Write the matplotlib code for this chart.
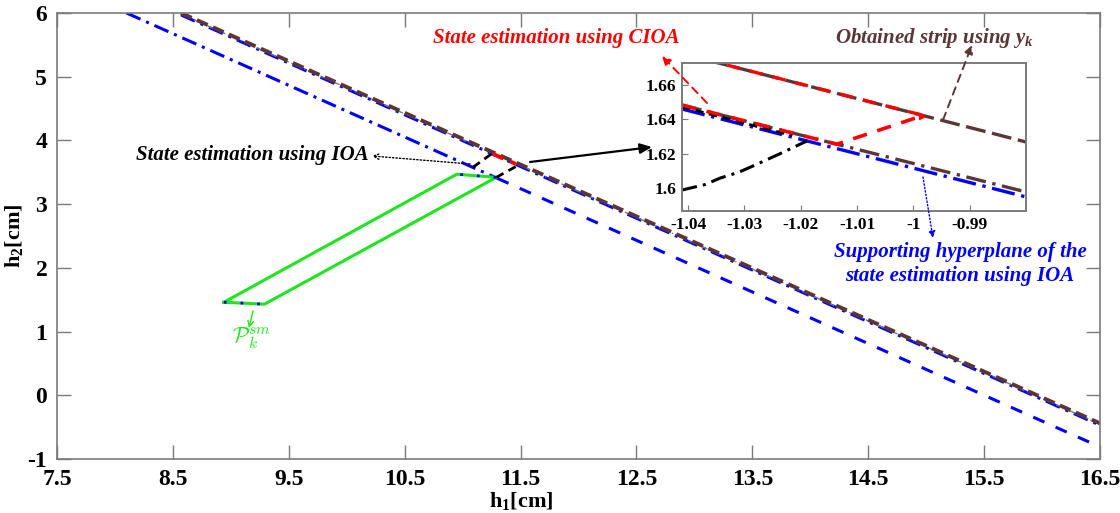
import numpy as np
import matplotlib
matplotlib.use("Agg")
import matplotlib.pyplot as plt

plt.rcParams['font.family'] = ['Liberation Serif', 'DejaVu Serif']
plt.rcParams['font.weight'] = 'bold'
plt.rcParams['axes.unicode_minus'] = False
plt.rcParams['mathtext.fontset'] = 'custom'
plt.rcParams['mathtext.rm'] = 'Liberation Serif:bold'
plt.rcParams['mathtext.bf'] = 'Liberation Serif:bold'
plt.rcParams['mathtext.it'] = 'Liberation Serif:bold:italic'

# ---------------- data ----------------
# measurement strip boundaries (upper side) and supporting hyperplane
strip_h1 = [8.57, 16.5]
strip_h2 = [6.0, -0.44]
strip2_h2 = [5.985, -0.455]       # second strip boundary (dash-dot)
hyper_up_h2 = [5.97, -0.47]       # supporting hyperplane on the strip
# lower supporting hyperplane of the IOA estimate
lower_h1 = [8.10, 11.30, 16.5]
lower_h2 = [6.0, 3.405, -0.81]

# set-membership estimate P_k^sm
pk_h1 = [8.94, 9.29, 11.29, 10.95, 8.94]
pk_h2 = [1.46, 1.43, 3.42, 3.47, 1.46]

# parts of the IOA estimate inside the strip
ioa_a_h1 = [11.09, 11.25]
ioa_a_h2 = [3.58, 3.79]
ioa_b_h1 = [11.29, 11.50]
ioa_b_h2 = [3.42, 3.63]
# CIOA estimate on the strip
cioa_h1 = [11.26, 11.46]
cioa_h2 = [3.79, 3.63]

# zoomed view
z_top_x = [-1.0411, -0.98]
z_top_y = [1.6783, 1.6268]
z_mid_x = [-1.0411, -0.98]
z_mid_y = [1.6483, 1.5977]
z_blue_x = [-1.0411, -0.98]
z_blue_y = [1.6460, 1.5948]
z_red_x = [-1.0411, -1.0136, -0.9985]
z_red_y = [1.6483, 1.6255, 1.6420]
z_red_top_x = [-1.0411, -0.9985]
z_red_top_y = [1.6783, 1.6425]
z_blk_x = [-1.0411, -1.0215]
z_blk_y = [1.6472, 1.6305]
z_curve_x = [-1.0411, -1.0370, -1.0343, -1.0310, -1.0285, -1.0240, -1.0189]
z_curve_y = [1.5988, 1.6020, 1.6058, 1.6092, 1.6128, 1.6195, 1.6274]
z_xticks = [-1.04, -1.03, -1.02, -1.01, -1.0, -0.99]
z_xticklabels = ['-1.04', '-1.03', '-1.02', '-1.01', '-1', '-0.99']
z_yticks = [1.6, 1.62, 1.64, 1.66]
z_yticklabels = ['1.6', '1.62', '1.64', '1.66']

xticks = [7.5, 8.5, 9.5, 10.5, 11.5, 12.5, 13.5, 14.5, 15.5, 16.5]
yticks = [-1, 0, 1, 2, 3, 4, 5, 6]

BROWN = '#5a3636'
BLUE = '#0000ff'
RED = '#ff0000'
GREEN = '#1ee61e'
GRAY = '#7a7a7a'

DASHDOT = (0, (5, 2, 1, 2))

fig = plt.figure(figsize=(11.2, 5.13), dpi=100)
ax = fig.add_axes([57/1120, 1 - 459/513, (1100 - 57)/1120, (459 - 13)/513])

ax.plot(lower_h1[:2], lower_h2[:2], color=BLUE, lw=2.2, ls=DASHDOT)
ax.plot(lower_h1[1:], lower_h2[1:], color=BLUE, lw=2.2, ls=(0, (4, 4)))
ax.plot(strip_h1, hyper_up_h2, color=BLUE, lw=2.2, ls=DASHDOT)
ax.plot(strip_h1, strip2_h2, color=GRAY, lw=1.0, ls=DASHDOT)
ax.plot(strip_h1, strip_h2, color=BROWN, lw=2.8, ls=(0, (3, 1.5)))

ax.plot(pk_h1, pk_h2, color=GREEN, lw=2.2)
ax.plot(pk_h1[:2], pk_h2[:2], color=BLUE, lw=2.0, ls=(0, (1, 5)))
ax.plot(pk_h1[2:4], pk_h2[2:4], color=BLUE, lw=2.0, ls=(0, (1, 5)))

ax.plot(ioa_a_h1, ioa_a_h2, color='black', lw=2.0, ls=(0, (3, 2)))
ax.plot(ioa_b_h1, ioa_b_h2, color='black', lw=2.0, ls=(0, (3, 2)))
ax.plot(cioa_h1, cioa_h2, color=RED, lw=2.8, ls=(0, (3, 2)))

ax.set_xlim(7.5, 16.5)
ax.set_ylim(-1, 6)
ax.set_xticks(xticks)
ax.set_xticklabels([f'{t:g}' for t in xticks])
ax.set_yticks(yticks)
ax.set_yticklabels([f'{t:g}' for t in yticks])
ax.tick_params(direction='in', length=10, width=1, color=GRAY,
               top=True, right=True, labelsize=17, pad=7)
for lab in ax.get_xticklabels() + ax.get_yticklabels():
    lab.set_fontweight('bold')
for s in ax.spines.values():
    s.set_color(GRAY)
    s.set_linewidth(1.2)
ax.set_xlabel(r'h$_\mathbf{1}$[cm]', fontsize=16, fontweight='bold')
ax.set_ylabel(r'h$_\mathbf{2}$[cm]', fontsize=16, fontweight='bold')
ax.xaxis.set_label_coords((521 - 57) / 1043, -31 / 446)
ax.yaxis.set_label_coords(-32 / 1043, 0.5)

# zoomed inset
axin = fig.add_axes([682/1120, 1 - 211/513, (1026 - 682)/1120, (211 - 63)/513])
axin.plot(z_top_x, z_top_y, color=BROWN, lw=2.4, ls=(0, (6, 2)))
axin.plot(z_red_top_x, z_red_top_y, color=RED, lw=2.4, ls=(0, (4, 3)))
axin.plot(z_blue_x, z_blue_y, color=BLUE, lw=2.4, ls=(0, (7, 2, 1, 2)))
axin.plot(z_mid_x, z_mid_y, color=BROWN, lw=2.4, ls=(0, (6, 2, 1, 2)))
axin.plot(z_blk_x, z_blk_y, color='black', lw=2.0, ls=(0, (3, 2)))
axin.plot(z_red_x, z_red_y, color=RED, lw=2.6, ls=(0, (4, 3)))
axin.plot(z_red_x[-1], z_red_y[-1], marker='>', color=RED, ms=5)
axin.plot(z_curve_x, z_curve_y, color='black', lw=2.2, ls=(0, (5, 2, 1, 2)))
axin.set_xlim(-1.0411, -0.98)
axin.set_ylim(1.5866, 1.6728)
axin.set_xticks(z_xticks)
axin.set_xticklabels(z_xticklabels)
axin.set_yticks(z_yticks)
axin.set_yticklabels(z_yticklabels)
axin.tick_params(direction='in', length=4, color=GRAY, labelsize=12.5, pad=4)
for lab in axin.get_xticklabels() + axin.get_yticklabels():
    lab.set_fontweight('bold')
for s in axin.spines.values():
    s.set_color(GRAY)
    s.set_linewidth(1.4)

# overlay in pixel coordinates for callouts
ov = fig.add_axes([0, 0, 1, 1], zorder=10)
ov.set_xlim(0, 1120)
ov.set_ylim(513, 0)
ov.axis('off')

tkw = dict(fontsize=15, fontweight='bold', fontstyle='italic', va='center')
ov.text(556, 38, 'State estimation using CIOA', color=RED, ha='center', **tkw)
ov.text(835, 38, r'Obtained strip using $\mathit{y}_{\mathit{k}}$', color=BROWN, ha='left', **tkw)
ov.text(252, 155, 'State estimation using IOA', color='black', ha='center', **tkw)
ov.text(960, 264, 'Supporting hyperplane of the\nstate estimation using IOA',
        color=BLUE, ha='center', linespacing=1.25, **tkw)
ov.text(232, 338, r'$\mathcal{P}_{k}^{sm}$', color=GREEN, fontsize=16,
        math_fontfamily='cm', ha='left', va='center')

def arrow(x0, y0, x1, y1, color, ls, style='-|>', lw=1.2, hw=0.25, hl=0.5):
    ov.annotate('', xy=(x1, y1), xytext=(x0, y0),
                arrowprops=dict(arrowstyle=f'{style},head_width={hw},head_length={hl}',
                                color=color, lw=lw, ls=ls,
                                shrinkA=0, shrinkB=0))

arrow(707, 103, 662, 56, RED, (0, (4, 3)), lw=1.4)
arrow(943, 120, 972, 45, BROWN, (0, (4, 3)), lw=1.4)
arrow(470, 164, 372, 156, 'black', (0, (1, 1.5)), style='->', lw=1.0, hw=0.2, hl=0.4)
arrow(530, 162, 652, 147, 'black', '-', lw=1.6, hw=0.3, hl=0.7)
arrow(923, 177, 933, 238, BLUE, (0, (1, 1.5)), lw=1.0, hw=0.2, hl=0.4)
arrow(253, 311, 249, 328, GREEN, '-', style='->', lw=1.0, hw=0.2, hl=0.4)

fig.savefig('out.png', dpi=100)
